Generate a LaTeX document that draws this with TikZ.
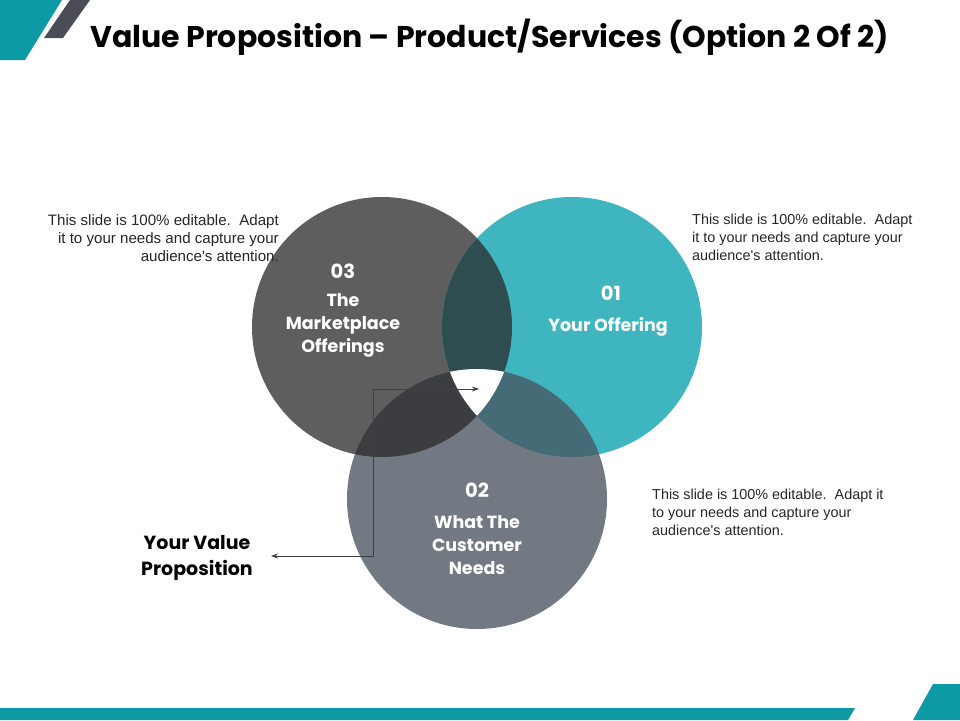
\documentclass[tikz,border=0pt]{standalone}
\usepackage{fontspec}
\setmainfont{Liberation Sans}
\newfontfamily\bodyfont{Liberation Sans}
\newfontfamily\titlefont{Poppins}
\usetikzlibrary{arrows.meta}
\definecolor{tealc}{HTML}{3FB5BF}
\definecolor{teald}{HTML}{0E9AA5}
\definecolor{greyA}{HTML}{5E5E5E}
\definecolor{greyC}{HTML}{737982}
\definecolor{ab}{HTML}{2E4D50}
\definecolor{ac}{HTML}{3C3D40}
\definecolor{bc}{HTML}{446B76}
\definecolor{stripe}{HTML}{4A4D55}
\definecolor{bodyt}{HTML}{262626}
\tikzset{
  body/.style={font=\bodyfont\fontsize{14.4}{18}\selectfont, text=bodyt, inner sep=0pt},
  bodyl/.style={font=\bodyfont\fontsize{15.1}{18}\selectfont, text=bodyt, inner sep=0pt},
  clabel/.style={font=\titlefont\bfseries\fontsize{17.5}{23}\selectfont, text=white, align=center, inner sep=0pt},
  cnum/.style={font=\titlefont\bfseries\fontsize{19.5}{20}\selectfont, text=white, inner sep=0pt},
  conn/.style={draw=black!75, line width=0.8pt},
}
\begin{document}
\begin{tikzpicture}[x=1pt,y=-1pt]
\useasboundingbox (0,0) rectangle (960,720);
% decorations
\fill[teald] (0,0) -- (62,0) -- (25,60) -- (0,60) -- cycle;
\fill[stripe] (70,0) -- (90,0) -- (63,38) -- (44,38) -- cycle;
\fill[teald] (0,708) -- (855,708) -- (848,720) -- (0,720) -- cycle;
\fill[teald] (933,684) -- (960,684) -- (960,720) -- (913,720) -- cycle;
% title
\node[font=\titlefont\bfseries\fontsize{30}{32}\selectfont, anchor=base west, inner sep=0pt] (title) at (90,47) {Value Proposition – Product/Services (Option 2 Of 2)};
% circles
\node[circle, minimum size=260, fill=greyA, inner sep=0pt] (A) at (382,327) {};
\node[circle, minimum size=260, fill=tealc, inner sep=0pt] (B) at (572,327) {};
\node[circle, minimum size=260, fill=greyC, inner sep=0pt] (C) at (477,499) {};
\begin{scope}
  \clip (A.center) circle (130);
  \fill[ab] (B.center) circle (130);
\end{scope}
\begin{scope}
  \clip (A.center) circle (130);
  \fill[ac] (C.center) circle (130);
\end{scope}
\begin{scope}
  \clip (B.center) circle (130);
  \fill[bc] (C.center) circle (130);
\end{scope}
\begin{scope}
  \clip (A.center) circle (130);
  \clip (B.center) circle (130);
  \fill[white] (C.center) circle (130);
\end{scope}
% circle labels
\node[cnum] (n3) at (343,271) {03};
\node[clabel] (l3) at (343,325) {The\\Marketplace\\Offerings};
\node[cnum] (n1) at (611,293) {01};
\node[clabel] (l1) at (608,327) {Your Offering};
\node[cnum] (n2) at (477,490) {02};
\node[clabel] (l2) at (477,545) {What The\\Customer\\Needs};
% side texts
\node[bodyl, align=right, anchor=north east] (tl) at (279,214) {This slide is 100\% editable.\ \ Adapt\\it to your needs and capture your\\audience's attention.};
\node[body, align=left, anchor=north west] (tr) at (692,214) {This slide is 100\% editable.\ \ Adapt\\it to your needs and capture your\\audience's attention.};
\node[body, align=left, anchor=north west] (br) at (652,489) {This slide is 100\% editable.\ \ Adapt it\\to your needs and capture your\\audience's attention.};
% value proposition
\node[font=\titlefont\bfseries\fontsize{19}{26}\selectfont, align=center, inner sep=0pt] (vp) at (197,558) {Your Value\\Proposition};
\coordinate (tip) at (479,389);
\coordinate (k1) at (373,389);
\coordinate (k2) at (373,556);
\coordinate (vpend) at (271,556);
\draw[conn, {Stealth[length=7pt,width=5pt]}-{Stealth[length=7pt,width=5pt]}] (tip) -- (k1) -- (k2) -- (vpend);
\end{tikzpicture}
\end{document}
